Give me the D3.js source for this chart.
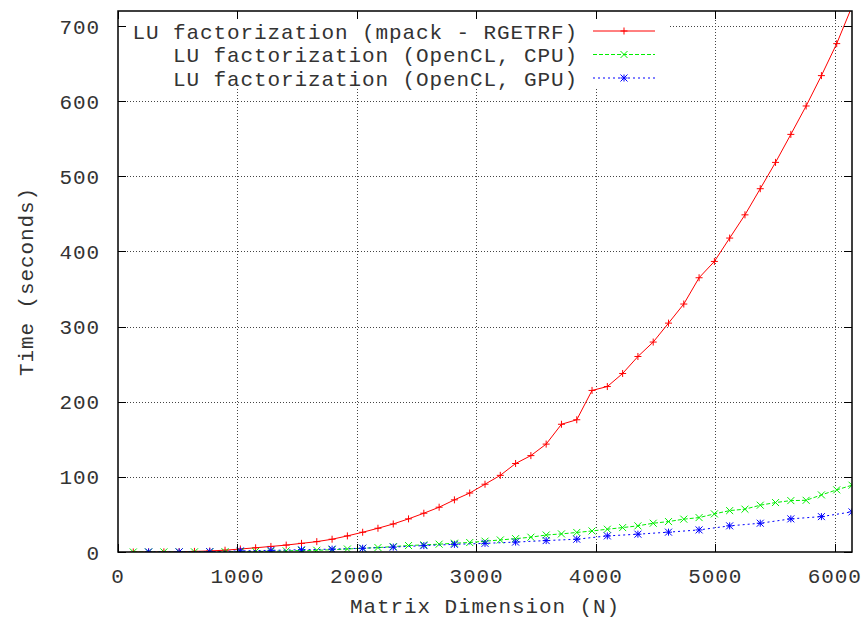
<!DOCTYPE html>
<meta charset="utf-8">
<html>
<head>
<title>LU factorization timing</title>
<style>
  body { margin: 0; background: #fff; }
  text { font-family: "Liberation Mono", monospace; font-size: 21px; letter-spacing: 0.9px; fill: #333; }
  .grid line { stroke: #444; stroke-width: 1; stroke-dasharray: 1,2; shape-rendering: crispEdges; }
  .frame { fill: none; stroke: #000; stroke-width: 1.5; }
  .tick { stroke: #000; stroke-width: 1; shape-rendering: crispEdges; }
</style>
</head>
<body>
<svg width="867" height="620"></svg>
<script src="https://d3js.org/d3.v7.min.js"></script>
<script>
// matrix sizes (N)
var sizesA = [128, 256, 384, 512, 640, 768, 896, 1024, 1152, 1280, 1408, 1536, 1664, 1792, 1920, 2048,
  2176, 2304, 2432, 2560, 2688, 2816, 2944, 3072, 3200, 3328, 3456, 3584, 3712, 3840, 3968, 4096,
  4224, 4352, 4480, 4608, 4736, 4864, 4992, 5120, 5248, 5376, 5504, 5632, 5760, 5888, 6016, 6144];
var sizesB = [256, 512, 768, 1024, 1280, 1536, 1792, 2048, 2304, 2560, 2816, 3072,
  3328, 3584, 3840, 4096, 4352, 4608, 4864, 5120, 5376, 5632, 5888, 6144];

// time in seconds
var mpackTimes = [0.01, 0.05, 0.2, 0.4, 0.8, 1.4, 2.4, 4.0, 5.6, 7.4, 9.2, 11.5, 13.8, 17.0, 21.4, 26.3,
  31.6, 37.3, 44.1, 51.6, 59.6, 69.4, 78.5, 90.2, 102.0, 117.8, 128.3, 143.6, 170.0, 176.0, 215.0, 220.2,
  237.6, 260.2, 279.4, 304.6, 330.0, 365.0, 386.7, 417.8, 448.7, 483.5, 518.5, 555.8, 593.6, 634.0, 676.6, 726.0];
var cpuTimes = [0.02, 0.05, 0.1, 0.15, 0.2, 0.3, 0.4, 0.6, 0.8, 1.0, 1.5, 2.0, 2.3, 3.0, 4.0, 5.0,
  5.9, 7.2, 8.6, 9.5, 10.4, 11.7, 12.6, 14.4, 16.0, 17.8, 19.7, 22.6, 24.1, 26.0, 28.0, 30.3,
  32.5, 34.8, 38.3, 40.5, 43.7, 45.8, 50.7, 55.1, 57.0, 62.3, 65.8, 68.4, 68.8, 76.0, 82.7, 88.9];
var gpuTimes = [0.1, 0.2, 0.5, 1.5, 2.2, 3.0, 3.8, 5.0, 6.5, 8.5, 10.2, 11.5,
  13.2, 15.2, 17.0, 21.4, 23.7, 26.4, 29.4, 34.8, 38.3, 44.1, 47.1, 53.4];

var seriesNames = ["LU factorization (mpack - RGETRF)", "LU factorization (OpenCL, CPU)", "LU factorization (OpenCL, GPU)"];
var xTicks = [0, 1000, 2000, 3000, 4000, 5000, 6000];
var yTicks = [0, 100, 200, 300, 400, 500, 600, 700];

var svg = d3.select("svg"),
    margin = {top: 11, right: 15, bottom: 68, left: 118},
    width = +svg.attr("width") - margin.left - margin.right,
    height = +svg.attr("height") - margin.top - margin.bottom,
    g = svg.append("g").attr("transform", "translate(" + margin.left + "," + margin.top + ")");

var x = d3.scaleLinear().domain([0, 6144]).range([0, width]);
var y = d3.scaleLinear().domain([0, 720]).range([height, 0]);

// grid
var grid = g.append("g").attr("class", "grid");
grid.selectAll(".gx").data(xTicks.slice(1)).enter().append("line")
    .attr("x1", function(d) { return Math.round(x(d)) + 0.5; })
    .attr("x2", function(d) { return Math.round(x(d)) + 0.5; })
    .attr("y1", 0).attr("y2", height);
grid.selectAll(".gy").data(yTicks.slice(1)).enter().append("line")
    .attr("y1", function(d) { return Math.round(y(d)) + 0.5; })
    .attr("y2", function(d) { return Math.round(y(d)) + 0.5; })
    .attr("x1", 0).attr("x2", width);

// key background hides grid behind it
g.append("rect").attr("x", 0).attr("y", 0).attr("width", 550).attr("height", 76).attr("fill", "#fff");

svg.append("clipPath").attr("id", "clip").append("rect")
    .attr("x", 0).attr("y", 0).attr("width", width).attr("height", height);

function marker(type, s) {
  if (type == "plus") return "M" + (-s) + ",0H" + s + "M0," + (-s) + "V" + s;
  if (type == "cross") return "M" + (-s) + "," + (-s) + "L" + s + "," + s + "M" + (-s) + "," + s + "L" + s + "," + (-s);
  return "M" + (-s) + ",0H" + s + "M0," + (-s) + "V" + s +
    "M" + (-s) + "," + (-s) + "L" + s + "," + s + "M" + (-s) + "," + s + "L" + s + "," + (-s);
}

var series = [
  {name: seriesNames[0], n: sizesA, t: mpackTimes, color: "#ff0000", dash: null, mark: "plus"},
  {name: seriesNames[1], n: sizesA, t: cpuTimes, color: "#00ee00", dash: "4,2", mark: "cross"},
  {name: seriesNames[2], n: sizesB, t: gpuTimes, color: "#0000ff", dash: "2,3", mark: "star"}
];

var line = d3.line()
    .x(function(d) { return x(d[0]); })
    .y(function(d) { return y(d[1]); });

var plot = g.append("g").attr("clip-path", "url(#clip)");
series.forEach(function(s) {
  var pts = s.n.map(function(v, i) { return [v, s.t[i]]; });
  plot.append("path")
      .datum(pts)
      .attr("fill", "none")
      .attr("stroke", s.color)
      .attr("stroke-width", 1)
      .attr("stroke-dasharray", s.dash)
      .attr("d", line);
  plot.selectAll(null).data(pts).enter().append("path")
      .attr("transform", function(d) { return "translate(" + x(d[0]) + "," + y(d[1]) + ")"; })
      .attr("d", marker(s.mark, 3.5))
      .attr("fill", "none")
      .attr("stroke", s.color)
      .attr("stroke-width", 1);
});

// ticks on all four sides, pointing inward
var tl = 8;
xTicks.forEach(function(d) {
  var px = Math.round(x(d)) + 0.5;
  g.append("line").attr("class", "tick").attr("x1", px).attr("x2", px).attr("y1", height).attr("y2", height - tl);
  g.append("line").attr("class", "tick").attr("x1", px).attr("x2", px).attr("y1", 0).attr("y2", tl);
  g.append("text").attr("x", x(d)).attr("y", height + 31).attr("text-anchor", "middle").text(d);
});
yTicks.forEach(function(d) {
  var py = Math.round(y(d)) + 0.5;
  g.append("line").attr("class", "tick").attr("x1", 0).attr("x2", tl).attr("y1", py).attr("y2", py);
  g.append("line").attr("class", "tick").attr("x1", width).attr("x2", width - tl).attr("y1", py).attr("y2", py);
  g.append("text").attr("x", -18).attr("y", y(d)).attr("dy", "0.36em").attr("text-anchor", "end").text(d);
});

g.append("rect").attr("class", "frame").attr("x", 0).attr("y", 0).attr("width", width).attr("height", height);

// axis titles
svg.append("text").attr("x", margin.left + width / 2).attr("y", 613).attr("text-anchor", "middle").text("Matrix Dimension (N)");
svg.append("text").attr("transform", "translate(33," + (margin.top + height / 2) + ") rotate(-90)")
    .attr("text-anchor", "middle").text("Time (seconds)");

// legend
var key = svg.append("g");
series.forEach(function(s, i) {
  var ky = 31 + i * 23.5;
  key.append("text").attr("x", 578).attr("y", ky).attr("dy", "0.36em").attr("text-anchor", "end").text(s.name);
  key.append("line").attr("x1", 593).attr("x2", 655).attr("y1", ky).attr("y2", ky)
      .attr("stroke", s.color).attr("stroke-width", 1).attr("stroke-dasharray", s.dash);
  key.append("path").attr("transform", "translate(624," + ky + ")").attr("d", marker(s.mark, 3.5))
      .attr("fill", "none").attr("stroke", s.color).attr("stroke-width", 1);
});
</script>
</body>
</html>
